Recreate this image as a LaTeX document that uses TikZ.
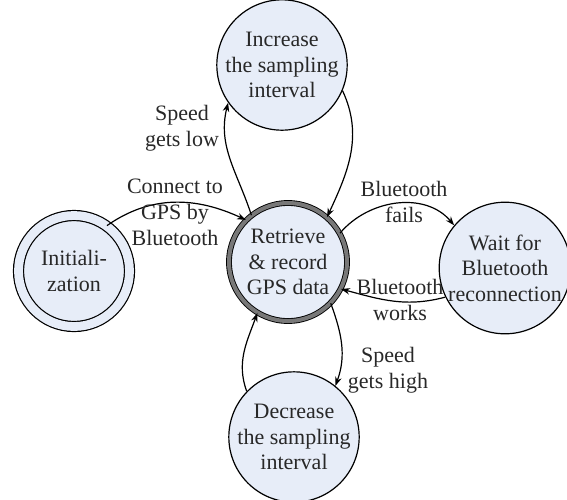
\documentclass[tikz,border=0pt]{standalone}
\usepackage{fontspec}
\setmainfont{Liberation Serif}
\usetikzlibrary{arrows.meta}
\definecolor{statefill}{RGB}{231,237,248}
\definecolor{ringgray}{RGB}{120,120,120}
\definecolor{txt}{RGB}{40,40,40}
\tikzset{
  state/.style={circle, draw=black, line width=1.2pt, fill=statefill, inner sep=0pt,
    minimum size=121pt, align=center, text=txt, font=\fontsize{22}{25.5}\selectfont},
  mainstate/.style={state, line width=0.9pt, double=ringgray, double distance=4pt, minimum size=118pt},
  initstate/.style={state, double=statefill, double distance=8.8pt, minimum size=111pt},
  lbl/.style={align=center, text=txt, font=\fontsize{22}{26}\selectfont, inner sep=0pt},
  trans/.style={line width=1.2pt, -{Stealth[length=9pt,width=6.5pt]}}
}
\begin{document}
\begin{tikzpicture}[x=1pt,y=-1pt]
\useasboundingbox (0,0) rectangle (567,499);
\node[mainstate] (R) at (288,262) {Retrieve\\\& record\\GPS data};
\node[initstate] (I) at (74,271) {Initiali-\\zation};
\node[state] (U) at (282,65) {Increase\\the sampling\\interval};
\node[state] (D) at (294,437) {Decrease\\the sampling\\interval};
\node[state] (W) at (505,268) {Wait for\\Bluetooth\\reconnection};

\draw[trans] (I.54) to[out=35,in=155] (R.135);
\draw[trans] (R.128) to[out=108,in=256] (U.215);
\draw[trans] (U.-23) to[out=-65,in=65] (R.49);
\draw[trans] (R.29) to[out=50,in=130] (W.140);
\draw[trans] (W.206) to[out=195,in=-15] (R.-27);
\draw[trans] (R.-44) to[out=-70,in=70] (D.51);
\draw[trans] (D.136) to[out=110,in=250] (R.239);

\node[lbl] (l1) at (175,212) {Connect to\\GPS by\\Bluetooth};
\node[lbl] (l2) at (182,128) {Speed\\gets low};
\node[lbl] (l3) at (404,202) {Bluetooth\\fails};
\node[lbl] (l4) at (400,300) {Bluetooth\\works};
\node[lbl] (l5) at (388,370) {Speed\\gets high};
\end{tikzpicture}
\end{document}
